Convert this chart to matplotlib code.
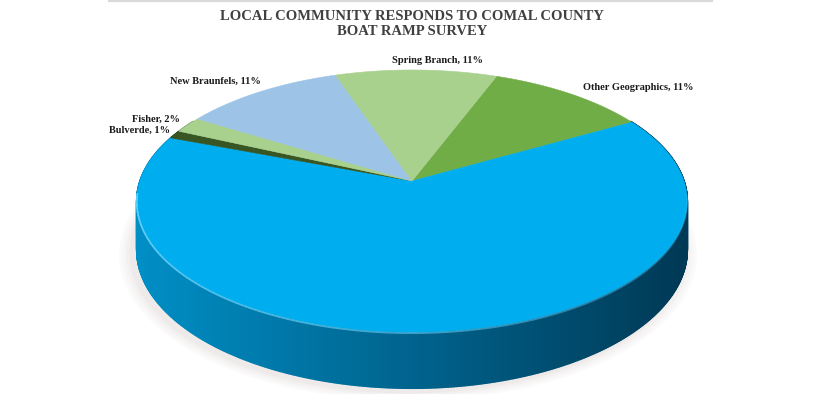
import matplotlib
matplotlib.use('Agg')

import matplotlib.pyplot as plt
import numpy as np
from matplotlib.patches import Polygon
from matplotlib.collections import PolyCollection, LineCollection

# Survey data (clockwise, first slice starts a little past 12 o'clock)
categories = ["Other Geographics", "", "Bulverde", "Fisher", "New Braunfels", "Spring Branch"]
shares = [11, 64, 1, 2, 11, 11]
colors = ["#70ad47", "#00aeef", "#375623", "#a9d18e", "#9dc3e6", "#a9d18e"]
start_angle = 20.8  # degrees clockwise from the top

title = "LOCAL COMMUNITY RESPONDS TO COMAL COUNTY\nBOAT RAMP SURVEY"

# pie geometry in pixel space (perspective projected disk)
CX, CY = 412.0, 181.0
A, B = 272.0, 128.0
K = 0.153
DEPTH = 47.5


def project(theta_deg, r=1.0, drop=0.0):
    t = np.radians(theta_deg)
    u = r * np.sin(t)
    v = r * np.cos(t)
    w = 1.0 + K * v
    x = CX + A * u / w
    y = CY - B * v / w + drop * DEPTH / w
    return x, y


def to_rgb(c):
    return np.array(matplotlib.colors.to_rgb(c))


fig = plt.figure(figsize=(8.2, 3.94), dpi=100)
ax = fig.add_axes([0, 0, 1, 1])
ax.set_xlim(0, 820)
ax.set_ylim(394, 0)
ax.axis('off')

# chart area border at the top
ax.plot([108, 713], [1.0, 1.0], color='#d9d9d9', lw=1.6, solid_capstyle='butt')

fracs = np.array(shares, dtype=float) / np.sum(shares)
edges = start_angle + 360.0 * np.concatenate([[0], np.cumsum(fracs)])


def slice_color_at(theta):
    th = (theta - start_angle) % 360.0 + start_angle
    for i in range(len(shares)):
        if edges[i] <= th < edges[i + 1]:
            return colors[i]
    return colors[-1]


# soft shadow under the pie
for k, al in enumerate([0.05, 0.05, 0.06, 0.07]):
    th = np.linspace(0, 360, 200)
    sx, sy = project(th, r=1.0 + 0.012 * (4 - k), drop=1.0)
    ax.add_patch(Polygon(np.column_stack([sx - 4, sy + 3]), closed=True,
                         facecolor='#b8a8a8', edgecolor='none', alpha=al))

# side of the cylinder, drawn as thin strips with left-to-right shading
dark = np.array([0.0, 0.12, 0.2])
theta = np.arange(60.0, 300.0, 0.5)
quads, qcols = [], []
for t0 in theta:
    t1 = t0 + 0.5
    x0, y0 = project(t0)
    x1, y1 = project(t1)
    x0b, y0b = project(t0, drop=1.0)
    x1b, y1b = project(t1, drop=1.0)
    quads.append([(x0, y0), (x1, y1), (x1b, y1b), (x0b, y0b)])
    s = np.clip(((x0 + x1) / 2 - 137) / 550.0, 0, 1)
    mix = 0.22 + 0.60 * s
    base = to_rgb(slice_color_at(t0 + 0.25))
    qcols.append(base * (1 - mix) + dark * mix)
side = PolyCollection(quads, facecolors=qcols, edgecolors=qcols, linewidths=1.2)
ax.add_collection(side)

# top face wedges
for i in range(len(shares)):
    th = np.linspace(edges[i], edges[i + 1], max(int(360 * fracs[i]), 3))
    rx, ry = project(th)
    pts = np.vstack([[CX, CY], np.column_stack([rx, ry])])
    ax.add_patch(Polygon(pts, closed=True, facecolor=colors[i],
                         edgecolor=colors[i], lw=0.4))

# bevel highlight along the front rim
th = np.linspace(95, 265, 170)
hx, hy = project(th)
segs = [[(hx[j], hy[j] + 1.0), (hx[j + 1], hy[j + 1] + 1.0)] for j in range(len(th) - 1)]
hl = []
for j in range(len(th) - 1):
    s = (th[j] - 95) / 170.0  # 0 right side, 1 left side
    hl.append((0.45, 0.85, 1.0, 0.15 + 0.75 * s))
ax.add_collection(LineCollection(segs, colors=hl, linewidths=1.3))

# data labels
label_nudge = {
    "Other Geographics": (12, -6, 'left'),
    "Bulverde": (-5, -4, 'right'),
    "Fisher": (-8, -6, 'right'),
    "New Braunfels": (0, -10, 'right'),
    "Spring Branch": (21, -9, 'center'),
}
for i, name in enumerate(categories):
    if not name:
        continue
    mid = (edges[i] + edges[i + 1]) / 2.0
    lx, ly = project(mid)
    dx, dy, ha = label_nudge[name]
    ax.text(lx + dx, ly + dy, f"{name}, {shares[i]}%", ha=ha, va='center',
            fontsize=7.5, fontweight='bold', family='Liberation Serif', color='#1a1a1a')

ax.text(412, 24, title, ha='center', va='center', fontsize=10.5, fontweight='bold',
        family='Liberation Serif', color='#404040', linespacing=1.2)

fig.savefig('out.png', dpi=100)
